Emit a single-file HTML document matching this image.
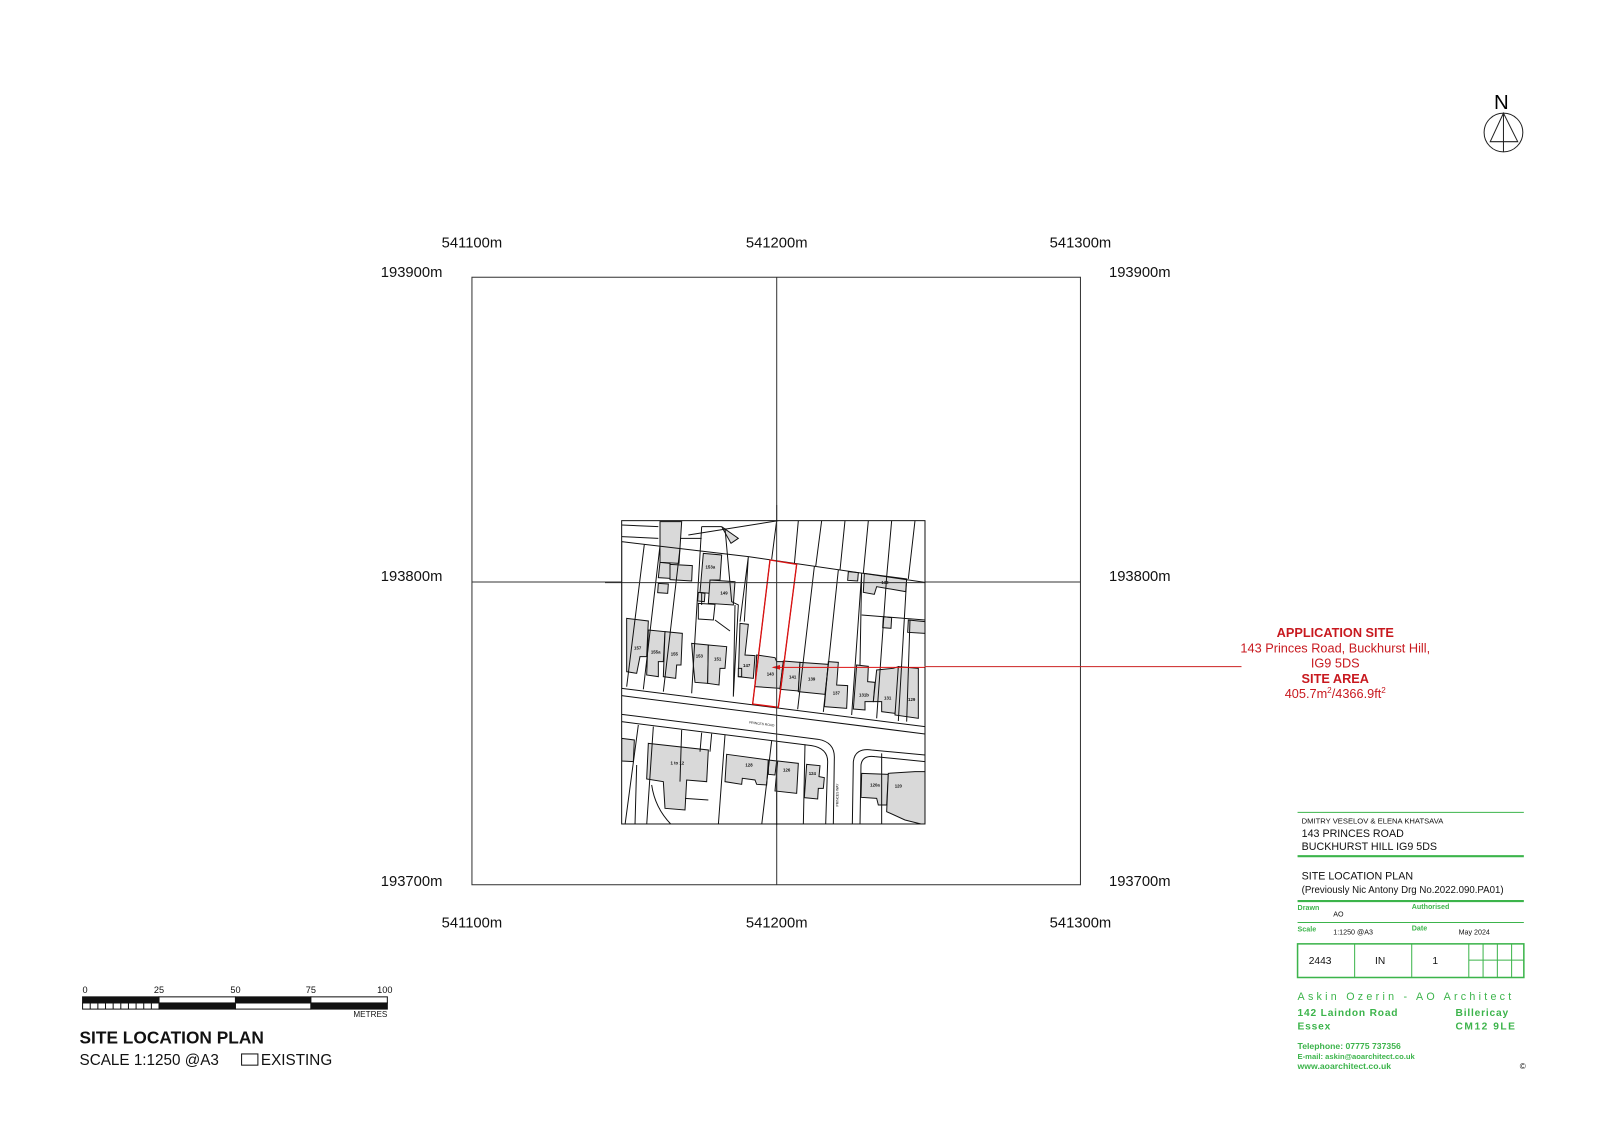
<!DOCTYPE html>
<html><head><meta charset="utf-8"><style>
html,body{margin:0;padding:0;background:#fff;}
svg{display:block;}
text{font-family:"Liberation Sans",Arial,sans-serif;}
</style></head><body>
<svg width="1600" height="1131" viewBox="0 0 1569.7 1109.6" xmlns="http://www.w3.org/2000/svg">
<rect width="1569.7" height="1109.6" fill="#fff"/>
<!-- grid -->
<g stroke="#333" stroke-width="1" fill="none">
<rect x="463" y="272" width="597" height="596"/>
<line x1="762" y1="272" x2="762" y2="868"/>
<line x1="463" y1="571" x2="1060" y2="571"/>
</g>
<g font-size="14.5" fill="#111">
<text x="463" y="243" text-anchor="middle">541100m</text>
<text x="762" y="243" text-anchor="middle">541200m</text>
<text x="1060" y="243" text-anchor="middle">541300m</text>
<text x="463" y="910" text-anchor="middle">541100m</text>
<text x="762" y="910" text-anchor="middle">541200m</text>
<text x="1060" y="910" text-anchor="middle">541300m</text>
<text x="434" y="272" text-anchor="end">193900m</text>
<text x="434" y="570" text-anchor="end">193800m</text>
<text x="434" y="869" text-anchor="end">193700m</text>
<text x="1088" y="272">193900m</text>
<text x="1088" y="570">193800m</text>
<text x="1088" y="869">193700m</text>
</g>
<!-- map -->
<g transform="scale(0.98106) translate(605,505) scale(0.33333)">
<defs><clipPath id="mc"><rect x="50" y="47" width="910" height="910"/></clipPath></defs>
<rect x="50" y="47" width="910" height="910" fill="#fff"/>
<g clip-path="url(#mc)" stroke="#111" stroke-width="3" fill="none">
<!-- buildings -->
<g fill="#d9d9d9">
<polygon points="65,340 130,348 125,455 105,455 95,505 65,500"/>
<polygon points="130,375 180,380 175,470 160,470 160,515 125,510"/>
<polygon points="180,380 232,385 228,480 215,480 212,520 175,515"/>
<polygon points="260,415 310,420 308,535 270,532 265,480"/>
<polygon points="310,420 365,425 360,490 345,490 342,540 308,535"/>
<polygon points="405,355 430,358 420,450 450,452 445,520 400,515"/>
<polygon points="455,450 510,458 515,470 535,470 525,550 450,545"/>
<polygon points="535,468 585,472 580,558 525,553"/>
<polygon points="585,472 670,478 660,568 580,560"/>
<polygon points="670,470 700,472 695,540 728,542 725,610 658,605"/>
<polygon points="755,480 790,484 788,530 810,532 805,590 780,590 780,615 745,612"/>
<polygon points="815,495 865,490 880,485 880,570 870,625 830,620 830,590 805,590"/>
<polygon points="880,485 940,490 940,640 870,630"/>
<polygon points="165,50 230,50 222,175 165,172"/>
<polygon points="165,172 195,175 195,220 160,218"/>
<polygon points="195,178 262,182 260,228 195,224"/>
<polygon points="295,145 350,150 345,225 320,225 315,265 285,262"/>
<polygon points="315,225 390,230 385,300 310,295"/>
<polygon points="778,205 905,222 902,260 815,245 808,268 775,262"/>
<polygon points="160,235 190,237 188,265 158,263"/>
<polygon points="130,715 310,735 305,830 245,825 240,915 180,910 175,830 125,822"/>
<polygon points="365,748 490,765 485,840 455,838 450,825 412,820 410,838 360,830"/>
<polygon points="490,765 515,768 510,810 490,808"/>
<polygon points="518,768 580,775 575,865 510,858"/>
<polygon points="605,778 645,782 642,815 658,818 655,850 640,850 638,882 598,878"/>
<polygon points="770,805 850,808 845,900 820,900 815,880 768,877"/>
<polygon points="850,805 930,800 960,800 960,960 900,945 845,920"/>
<polygon points="50,700 88,705 85,770 50,768"/>
<polygon points="400,490 410,490 410,515 400,515"/>
<polygon points="730,200 760,203 758,228 728,226"/>
<polygon points="835,335 860,338 858,370 833,368"/>
<polygon points="910,345 960,350 960,385 908,382"/>
<polygon points="280,262 300,265 298,290 278,288"/>
<polygon points="350,65 400,100 378,115"/>
</g>
<!-- road -->
<path d="M50,550 L960,665 M50,572 L960,687 M50,628 L640,703 Q690,712 688,760 L685,960 M50,650 L620,722 Q668,730 668,770 L662,960 M742,960 L745,770 Q750,728 800,735 L960,750 M765,960 L768,780 Q772,750 810,755 L960,770"/>
<!-- north plots -->
<path d="M50,110 L430,155 L960,232 M50,110 L50,550 M118,118 L65,545 M165,122 L115,553 M225,130 L175,560 M290,65 L260,565 M290,65 L350,65 M360,70 L380,290 L400,300 L385,575 M390,300 L385,575 M430,155 L405,350 M430,155 L418,350 M495,165 L443,597 M575,178 L520,607 M628,185 L578,613 M700,195 L655,621 M770,205 L740,630 M845,215 L815,640 M905,222 L880,648 M770,205 L765,480 M250,90 L520,47 M515,47 L500,163 M580,47 L568,178 M650,47 L632,185 M720,47 L705,196 M790,47 L775,205 M860,47 L845,215 M930,47 L910,222 M50,95 L160,100 M225,100 L290,100 M280,295 L330,298 L325,345 L280,342 Z M330,345 L375,378 M290,300 L290,265 M770,330 L960,345 M915,345 L905,650 M50,60 L160,65"/>
<!-- south plots -->
<path d="M100,660 L60,960 M145,665 L125,960 M230,675 L225,830 M290,683 L285,740 M320,686 L315,740 M360,690 L340,960 M500,708 L470,960 M515,710 L515,960 M600,718 L595,960 M240,880 L310,885 M830,745 L830,960"/>
<path d="M140,840 Q150,910 200,960 M95,780 L90,960"/>
</g>
<g font-size="13" fill="#111" text-anchor="middle" font-weight="bold" style="font-size:13px">
<text x="316" y="190">153a</text><text x="357" y="268">149</text><text x="98" y="434">157</text><text x="152" y="446">155a</text><text x="208" y="452">155</text><text x="283" y="457">153</text><text x="338" y="466">151</text><text x="425" y="486">147</text><text x="496" y="511">143</text><text x="563" y="521">141</text><text x="620" y="526">139</text><text x="694" y="568">137</text><text x="777" y="575">131b</text><text x="848" y="583">131</text><text x="920" y="588">129</text><text x="840" y="237">133</text><text x="217" y="778">1 to 12</text><text x="432" y="784">128</text><text x="545" y="800">126</text><text x="622" y="810">124</text><text x="810" y="845">120a</text><text x="880" y="848">120</text>
<text x="470" y="660" font-size="10" font-weight="normal" transform="rotate(7 470 660)">PRINCES ROAD</text>
<text x="700" y="870" font-size="10" font-weight="normal" transform="rotate(-90 700 870)">PRINCES WAY</text>
</g>
<polygon points="495,165 575,178 520,607 443,597" fill="none" stroke="#d11" stroke-width="4"/>
<line x1="505" y1="487" x2="960" y2="487" stroke="#d11" stroke-width="3"/>
<polygon points="500,487 525,480 525,494" fill="#d11"/>
<g stroke="#333" stroke-width="3"><line x1="515" y1="0" x2="515" y2="960"/><line x1="0" y1="233" x2="960" y2="233"/></g>
<rect x="50" y="47" width="910" height="910" fill="none" stroke="#111" stroke-width="3"/>
</g>
<!-- leader -->
<line x1="907" y1="654" x2="1218" y2="654" stroke="#c22" stroke-width="1"/>
<g fill="#c8191f" font-size="12.5" text-anchor="middle">
<text x="1310" y="625" font-weight="bold">APPLICATION SITE</text>
<text x="1310" y="640">143 Princes Road, Buckhurst Hill,</text>
<text x="1310" y="655">IG9 5DS</text>
<text x="1310" y="670" font-weight="bold">SITE AREA</text>
<text x="1310" y="685">405.7m<tspan font-size="8" dy="-5">2</tspan><tspan dy="5">/4366.9ft</tspan><tspan font-size="8" dy="-5">2</tspan></text>
</g>
<!-- north -->
<text x="1473" y="107" font-size="20" text-anchor="middle">N</text>
<g stroke="#222" fill="none" stroke-width="1"><circle cx="1475" cy="130" r="19"/><path d="M1475,111 L1462,139 L1489,139 Z M1475,111 L1475,149"/></g>
<!-- scale bar -->
<g stroke="#111" stroke-width="1">
<rect x="81" y="978" width="75" height="6" fill="#111"/><rect x="156" y="978" width="75" height="6" fill="#fff"/><rect x="231" y="978" width="74" height="6" fill="#111"/><rect x="305" y="978" width="75" height="6" fill="#fff"/>
<rect x="81" y="984" width="75" height="6" fill="#fff"/><rect x="156" y="984" width="75" height="6" fill="#111"/><rect x="231" y="984" width="74" height="6" fill="#fff"/><rect x="305" y="984" width="75" height="6" fill="#111"/>
<path d="M88.5,984v6M96,984v6M103.5,984v6M111,984v6M118.5,984v6M126,984v6M133.5,984v6M141,984v6M148.5,984v6"/>
</g>
<g font-size="9" fill="#111"><text x="81" y="974">0</text><text x="151" y="974">25</text><text x="226" y="974">50</text><text x="300" y="974">75</text><text x="370" y="974">100</text><text x="380" y="998" text-anchor="end" font-size="8">METRES</text></g>
<text x="78" y="1024" font-size="17" font-weight="bold" fill="#111">SITE LOCATION PLAN</text>
<text x="78" y="1045" font-size="15" fill="#111">SCALE 1:1250 @A3</text>
<rect x="237" y="1034" width="16" height="11" fill="none" stroke="#111"/>
<text x="256" y="1045" font-size="15" fill="#111">EXISTING</text>
<!-- title block -->
<g stroke="#3cb44b" fill="none">
<line x1="1273" y1="797" x2="1495" y2="797" stroke-width="1"/>
<line x1="1273" y1="840" x2="1495" y2="840" stroke-width="2"/>
<line x1="1273" y1="884" x2="1495" y2="884" stroke-width="2"/>
<line x1="1273" y1="905" x2="1495" y2="905" stroke-width="1"/>
<rect x="1273" y="926" width="222" height="33" stroke-width="1.5"/>
<path d="M1329,926v33M1385,926v33M1441,926v33M1455,926v33M1469,926v33M1483,926v33M1441,942h54"/>
</g>
<g fill="#111">
<text x="1277" y="808" font-size="7.5">DMITRY VESELOV &amp; ELENA KHATSAVA</text>
<text x="1277" y="821" font-size="10.5">143 PRINCES ROAD</text>
<text x="1277" y="834" font-size="10.5">BUCKHURST HILL   IG9 5DS</text>
<text x="1277" y="863" font-size="10.5">SITE LOCATION PLAN</text>
<text x="1277" y="876" font-size="9.5">(Previously Nic Antony Drg No.2022.090.PA01)</text>
<text x="1308" y="899" font-size="7">AO</text>
<text x="1308" y="917" font-size="7">1:1250 @A3</text>
<text x="1431" y="917" font-size="7">May 2024</text>
<text x="1284" y="946" font-size="10">2443</text>
<text x="1354" y="946" font-size="10" text-anchor="middle">IN</text>
<text x="1408" y="946" font-size="10" text-anchor="middle">1</text>
</g>
<g fill="#3cb44b" font-family="Liberation Mono,monospace" font-weight="bold">
<text x="1273" y="893" font-size="7" font-family="Liberation Serif,serif">Drawn</text>
<text x="1385" y="892" font-size="7" font-family="Liberation Serif,serif">Authorised</text>
<text x="1273" y="914" font-size="7" font-family="Liberation Serif,serif">Scale</text>
<text x="1385" y="913" font-size="7" font-family="Liberation Serif,serif">Date</text>
<text x="1273" y="981" font-size="10.5" letter-spacing="3.2" font-weight="normal">Askin Ozerin - AO Architect</text>
<text x="1273" y="997" font-size="10" letter-spacing="0.8">142 Laindon Road</text>
<text x="1428" y="997" font-size="10" letter-spacing="0.8">Billericay</text>
<text x="1273" y="1010" font-size="10" letter-spacing="0.8">Essex</text>
<text x="1428" y="1010" font-size="10" letter-spacing="1.5">CM12 9LE</text>
<text x="1273" y="1029" font-size="8.5">Telephone:  07775 737356</text>
<text x="1273" y="1039" font-size="7.5">E-mail:   askin@aoarchitect.co.uk</text>
<text x="1273" y="1049" font-size="8.5">www.aoarchitect.co.uk</text>
</g>
<text x="1491" y="1049" font-size="8" fill="#111">©</text>
</svg>
</body></html>
